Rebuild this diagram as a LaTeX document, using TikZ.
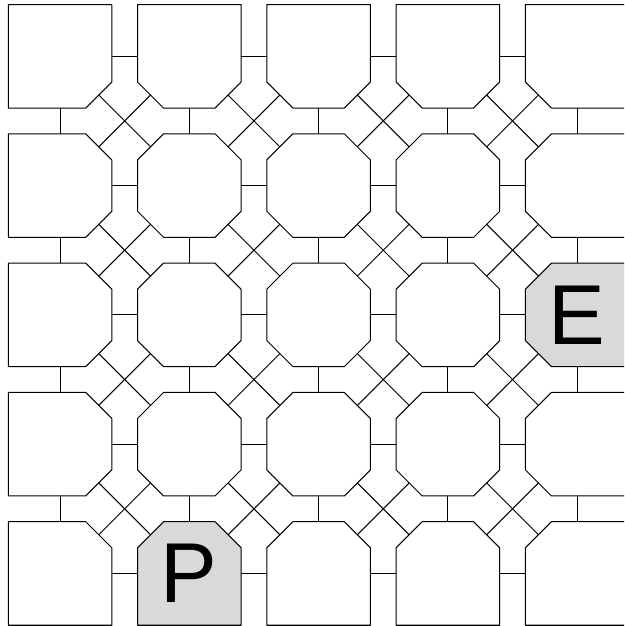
\documentclass[tikz,border=0pt]{standalone}
\usepackage{fontspec}
\setmainfont{Liberation Sans}
\usetikzlibrary{calc}
\definecolor{cellgray}{RGB}{217,217,217}
\begin{document}
\begin{tikzpicture}[x=1pt,y=1pt,
  cell/.style={rectangle, draw=none, minimum width=103.5pt, minimum height=103.5pt,
    inner sep=0pt, outer sep=0pt},
  outline/.style={draw=black, line width=1pt, line join=round},
  link/.style={draw=black, line width=1pt},
  letter/.style={font=\fontsize{85}{85}\selectfont, inner sep=0pt}]
\useasboundingbox (0,0) rectangle (624,626);
\clip (0,0) rectangle (624,626);
\foreach \i in {0,...,4}{
  \foreach \j in {0,...,4}{
    \node[cell] (c-\i-\j) at ({60+129.3*\i},{569.7-129.3*\j}) {};
    \def\anw{0}\def\ane{0}\def\asw{0}\def\ase{0}
    \ifnum\i>0 \ifnum\j>0 \def\anw{26}\fi\fi
    \ifnum\i<4 \ifnum\j>0 \def\ane{26}\fi\fi
    \ifnum\i>0 \ifnum\j<4 \def\asw{26}\fi\fi
    \ifnum\i<4 \ifnum\j<4 \def\ase{26}\fi\fi
    \def\cfill{white}
    \ifnum\i=4 \ifnum\j=2 \def\cfill{cellgray}\fi\fi
    \ifnum\i=1 \ifnum\j=4 \def\cfill{cellgray}\fi\fi
    \draw[outline, fill=\cfill]
      ($(c-\i-\j.north west)+(0,-\anw)$) -- ($(c-\i-\j.north west)+(\anw,0)$)
      -- ($(c-\i-\j.north east)+(-\ane,0)$) -- ($(c-\i-\j.north east)+(0,-\ane)$)
      -- ($(c-\i-\j.south east)+(0,\ase)$) -- ($(c-\i-\j.south east)+(-\ase,0)$)
      -- ($(c-\i-\j.south west)+(\asw,0)$) -- ($(c-\i-\j.south west)+(0,\asw)$)
      -- cycle;
  }
}
\node[letter] (labelE) at (c-4-2) {E};
\node[letter] (labelP) at (c-1-4) {P};
% horizontal links
\foreach \i [evaluate=\i as \k using int(\i+1)] in {0,...,3}{
  \foreach \j in {0,...,4}{
    \draw[link] (c-\i-\j) -- (c-\k-\j);
  }
}
% vertical links
\foreach \i in {0,...,4}{
  \foreach \j [evaluate=\j as \m using int(\j+1)] in {0,...,3}{
    \draw[link] (c-\i-\j) -- (c-\i-\m);
  }
}
% diagonal links (between the midpoints of the cut corners)
\foreach \i [evaluate=\i as \k using int(\i+1)] in {0,...,3}{
  \foreach \j [evaluate=\j as \m using int(\j+1)] in {0,...,3}{
    \draw[link] ($(c-\i-\j.south east)+(-13,13)$) -- ($(c-\k-\m.north west)+(13,-13)$);
    \draw[link] ($(c-\k-\j.south west)+(13,13)$) -- ($(c-\i-\m.north east)+(-13,-13)$);
  }
}
\end{tikzpicture}
\end{document}
